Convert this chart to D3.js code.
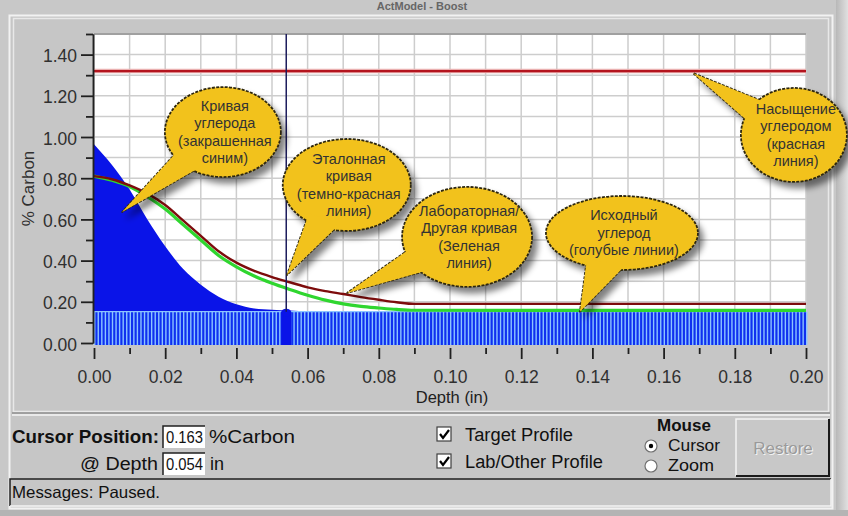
<!DOCTYPE html>
<html>
<head>
<meta charset="utf-8">
<script src="https://cdn.jsdelivr.net/npm/d3@7"></script>
<style>
  body { margin: 0; background: #c8c8c8; overflow: hidden; }
  svg { display: block; font-family: Arial, "Liberation Sans", sans-serif; }
</style>
</head>
<body>
<script>
// ---- data ----
const carbonDepth = [0, 0.005, 0.01, 0.015, 0.02, 0.025, 0.03, 0.035, 0.04, 0.045, 0.05, 0.055, 0.06];
const carbonValue = [0.965, 0.865, 0.745, 0.60, 0.47, 0.36, 0.283, 0.225, 0.188, 0.168, 0.162, 0.158, 0.153];

const profileDepth = [0, 0.005, 0.01, 0.015, 0.02, 0.025, 0.03, 0.035, 0.04, 0.045, 0.05, 0.055, 0.06, 0.065, 0.07, 0.075, 0.08, 0.085, 0.09, 0.20];
const targetValue  = [0.81, 0.795, 0.765, 0.725, 0.67, 0.595, 0.52, 0.445, 0.39, 0.35, 0.32, 0.295, 0.27, 0.252, 0.238, 0.223, 0.21, 0.198, 0.19, 0.19];
const labValue     = [0.81, 0.79, 0.76, 0.71, 0.65, 0.575, 0.50, 0.425, 0.37, 0.325, 0.29, 0.26, 0.232, 0.208, 0.19, 0.178, 0.17, 0.163, 0.159, 0.158];

const baseCarbon = 0.152;
const saturation = 1.32;
const cursorDepth = 0.054;
const cursorCarbon = 0.163;

const xMajor = [0, 0.02, 0.04, 0.06, 0.08, 0.10, 0.12, 0.14, 0.16, 0.18, 0.20];
const xMinor = [0.01, 0.03, 0.05, 0.07, 0.09, 0.11, 0.13, 0.15, 0.17, 0.19];
const yMajor = [0, 0.2, 0.4, 0.6, 0.8, 1.0, 1.2, 1.4];
const yMinor = [0.1, 0.3, 0.5, 0.7, 0.9, 1.1, 1.3, 1.5];

// callouts: text lines, balloon centre and tip in data units
const calloutText = [
  ["Кривая", "углерода", "(закрашенная", "синим)"],
  ["Эталонная", "кривая", "(темно-красная", "линия)"],
  ["Лабораторная/", "Другая кривая", "(Зеленая", "линия)"],
  ["Исходный", "углерод", "(голубые линии)"],
  ["Насыщение", "углеродом", "(красная", "линия)"]
];
const calloutDepth = [0.0362, 0.0710, 0.1048, 0.1483, 0.1966];
const calloutCarbon = [1.024, 0.767, 0.515, 0.534, 1.01];
const tipDepth = [0.0079, 0.0542, 0.0711, 0.1365, 0.1683];
const tipCarbon = [0.636, 0.33, 0.243, 0.152, 1.31];
const calloutRx = [58, 64, 65, 76, 53];
const calloutRy = [45, 46, 50, 37, 47];

// ---- layout ----
const W = 848, H = 516;
const svg = d3.select("body").append("svg").attr("width", W).attr("height", H);

const x = d3.scaleLinear().domain([0, 0.2]).range([94, 806]);
const y = d3.scaleLinear().domain([0, 1.5]).range([343, 34]);

const defs = svg.append("defs");
const f = defs.append("filter").attr("id", "shadow").attr("x", "-30%").attr("y", "-30%").attr("width", "170%").attr("height", "170%");
f.append("feGaussianBlur").attr("in", "SourceAlpha").attr("stdDeviation", 3).attr("result", "b");
f.append("feOffset").attr("in", "b").attr("dx", 5).attr("dy", 6).attr("result", "o");
f.append("feComponentTransfer").attr("in", "o").attr("result", "s")
  .append("feFuncA").attr("type", "linear").attr("slope", 0.5);
const m = f.append("feMerge");
m.append("feMergeNode").attr("in", "s");
m.append("feMergeNode").attr("in", "SourceGraphic");

const win = defs.append("linearGradient").attr("id", "rshade").attr("x1", 0).attr("x2", 1);
win.append("stop").attr("offset", 0).attr("stop-color", "#b8b8b8");
win.append("stop").attr("offset", 1).attr("stop-color", "#e0e0e0");

// window frame
svg.append("rect").attr("width", W).attr("height", H).attr("fill", "#c8c8c8");
svg.append("text").attr("x", 422).attr("y", 10).attr("text-anchor", "middle")
  .attr("font-size", 11).attr("font-weight", "bold").attr("fill", "#666").text("ActModel - Boost");
svg.append("rect").attr("x", 836).attr("y", 0).attr("width", 12).attr("height", H).attr("fill", "url(#rshade)");
svg.append("rect").attr("x", 0).attr("y", 510).attr("width", W).attr("height", 6).attr("fill", "#b4b4b4");
svg.append("rect").attr("x", 9.5).attr("y", 15.5).attr("width", 823).attr("height", 493)
  .attr("fill", "#c6c6c6").attr("stroke", "#f2f2f2").attr("stroke-width", 2);
// chart panel
svg.append("rect").attr("x", 13.5).attr("y", 18.5).attr("width", 815).attr("height", 393)
  .attr("fill", "#c6c6c6").attr("stroke", "#e8e8e8").attr("stroke-width", 1.5);
svg.append("line").attr("x1", 12).attr("x2", 830).attr("y1", 413).attr("y2", 413).attr("stroke", "#909090").attr("stroke-width", 1.5);
svg.append("line").attr("x1", 12).attr("x2", 830).attr("y1", 415).attr("y2", 415).attr("stroke", "#f4f4f4").attr("stroke-width", 1.5);

// plot area
svg.append("rect").attr("x", x(0)).attr("y", y(1.5)).attr("width", x(0.2) - x(0)).attr("height", y(0) - y(1.5) + 2)
  .attr("fill", "#ffffff");
const grid = svg.append("g").attr("stroke", "#cdcdcd").attr("stroke-width", 1.5);
grid.selectAll(".vg").data(x.ticks(20)).join("line")
  .attr("x1", d => x(d)).attr("x2", d => x(d)).attr("y1", y(1.5)).attr("y2", y(0));
grid.selectAll(".hg").data(y.ticks(15)).join("line")
  .attr("x1", x(0)).attr("x2", x(0.2)).attr("y1", d => y(d)).attr("y2", d => y(d));
svg.append("line").attr("x1", x(0)).attr("x2", x(0.2)).attr("y1", y(1.5)).attr("y2", y(1.5))
  .attr("stroke", "#a0a0a0").attr("stroke-width", 2);

// carbon curve (filled blue)
const carbon = carbonDepth.map((d, i) => ({d, v: carbonValue[i]}));
svg.append("path").datum(carbon)
  .attr("fill", "#0a14e8")
  .attr("d", d3.area().x(p => x(p.d)).y0(y(0)).y1(p => y(p.v)).curve(d3.curveMonotoneX));

// base carbon (striped blue)
svg.append("rect").attr("x", x(0)).attr("y", y(baseCarbon)).attr("width", x(0.2) - x(0)).attr("height", y(0) - y(baseCarbon) + 2)
  .attr("fill", "#0f30f0");
svg.append("g").attr("stroke", "#8cc4ff").attr("stroke-width", 1.4)
  .selectAll("line").data(x.ticks(200)).join("line")
  .attr("x1", d => x(d) + 0.7).attr("x2", d => x(d) + 0.7).attr("y1", y(baseCarbon)).attr("y2", y(0) + 2);
svg.append("line").attr("x1", x(0)).attr("x2", x(0.2)).attr("y1", y(baseCarbon)).attr("y2", y(baseCarbon))
  .attr("stroke", "#8cc4ff").attr("stroke-width", 1.2);

// cursor
svg.append("rect").attr("x", x(cursorDepth) - 5).attr("y", y(baseCarbon)).attr("width", 10).attr("height", y(0) - y(baseCarbon) + 2)
  .attr("fill", "#0a14e8");
svg.append("ellipse").attr("cx", x(cursorDepth)).attr("cy", y(baseCarbon) + 1).attr("rx", 5).attr("ry", 4).attr("fill", "#0a14e8");

// profiles
const line = d3.line().x(p => x(p.d)).y(p => y(p.v)).curve(d3.curveMonotoneX);
svg.append("path").datum(profileDepth.map((d, i) => ({d, v: labValue[i]})))
  .attr("fill", "none").attr("stroke", "#2fd62f").attr("stroke-width", 3.2).attr("d", line);
svg.append("path").datum(profileDepth.map((d, i) => ({d, v: targetValue[i]})))
  .attr("fill", "none").attr("stroke", "#7d0c0c").attr("stroke-width", 2.4).attr("d", line);

// saturation line
svg.append("line").attr("x1", x(0)).attr("x2", x(0.2)).attr("y1", y(saturation)).attr("y2", y(saturation))
  .attr("stroke", "#eab0b0").attr("stroke-width", 4.5);
svg.append("line").attr("x1", x(0)).attr("x2", x(0.2)).attr("y1", y(saturation)).attr("y2", y(saturation))
  .attr("stroke", "#b4141e").attr("stroke-width", 2.2);

svg.append("line").attr("x1", x(cursorDepth)).attr("x2", x(cursorDepth)).attr("y1", y(1.5)).attr("y2", y(baseCarbon))
  .attr("stroke", "#1c1c5c").attr("stroke-width", 1.5);

// axes
function styleAxis(g) {
  g.select(".domain").attr("stroke", "#202020").attr("stroke-width", 1.5);
  g.selectAll(".tick line").attr("stroke", "#202020").attr("stroke-width", 1.8);
  g.selectAll(".tick text").attr("fill", "#303030").attr("font-size", 17.5).attr("font-family", "Arial, 'Liberation Sans', sans-serif");
}
svg.append("g").attr("transform", "translate(93,0)")
  .call(d3.axisLeft(y).tickValues(yMinor).tickSize(7).tickFormat("").tickSizeOuter(0)).call(styleAxis);
svg.append("g").attr("transform", "translate(93,0)")
  .call(d3.axisLeft(y).tickValues(yMajor).tickSize(12).tickPadding(4).tickFormat(d3.format(".2f")).tickSizeOuter(0))
  .call(styleAxis)
  .call(g => g.selectAll(".tick text").attr("dy", "0.4em"));
svg.append("g").attr("transform", "translate(0,348)")
  .call(d3.axisBottom(x).tickValues(xMinor).tickSize(6).tickFormat("").tickSizeOuter(0)).call(styleAxis)
  .call(g => g.select(".domain").remove());
svg.append("g").attr("transform", "translate(0,348)")
  .call(d3.axisBottom(x).tickValues(xMajor).tickSize(11).tickPadding(12).tickFormat(d3.format(".2f")).tickSizeOuter(0))
  .call(styleAxis)
  .call(g => g.select(".domain").remove());

svg.append("text").attr("transform", `translate(34,${y(0.75)}) rotate(-90)`).attr("text-anchor", "middle")
  .attr("font-size", 17).attr("fill", "#303030").text("% Carbon");
svg.append("text").attr("x", 452).attr("y", 403).attr("text-anchor", "middle")
  .attr("font-size", 16.5).attr("fill", "#202020").text("Depth (in)");

// callouts
calloutText.forEach((lines, i) => {
  const cx = x(calloutDepth[i]), cy = y(calloutCarbon[i]);
  const tx = x(tipDepth[i]), ty = y(tipCarbon[i]);
  const rx = calloutRx[i], ry = calloutRy[i];
  const th = Math.atan2((ty - cy) / ry, (tx - cx) / rx);
  const dl = 0.32;
  const p1 = [cx + rx * 0.85 * Math.cos(th - dl), cy + ry * 0.85 * Math.sin(th - dl)];
  const p2 = [cx + rx * 0.85 * Math.cos(th + dl), cy + ry * 0.85 * Math.sin(th + dl)];
  const tail = `M${p1}L${tx},${ty}L${p2}Z`;
  const g = svg.append("g").attr("filter", "url(#shadow)");
  const st = {stroke: "#2e2810", w: 1.8, dash: "3,1.3"};
  g.append("path").attr("d", tail).attr("fill", "#f2c21e").attr("stroke", st.stroke).attr("stroke-width", st.w).attr("stroke-dasharray", st.dash).attr("stroke-linejoin", "round");
  g.append("ellipse").attr("cx", cx).attr("cy", cy).attr("rx", rx).attr("ry", ry)
    .attr("fill", "#f2c21e").attr("stroke", st.stroke).attr("stroke-width", st.w).attr("stroke-dasharray", st.dash);
  g.append("path").attr("d", tail).attr("fill", "#f2c21e");
  const lh = 17.5;
  svg.append("g").selectAll("text").data(lines).join("text")
    .attr("x", cx + 2).attr("y", (d, j) => cy + (j - (lines.length - 1) / 2) * lh + 5)
    .attr("text-anchor", "middle").attr("font-size", 14.5).attr("fill", "#333").text(d => d);
});

// ---- lower control panel ----
const ui = svg.append("g").attr("fill", "#111");
ui.append("text").attr("x", 12).attr("y", 443).attr("font-size", 18).attr("font-weight", "bold")
  .attr("textLength", 147).attr("lengthAdjust", "spacingAndGlyphs").text("Cursor Position:");
function field(xx, yy, txt) {
  ui.append("rect").attr("x", xx).attr("y", yy).attr("width", 42).attr("height", 22).attr("fill", "#fff");
  ui.append("path").attr("d", `M${xx},${yy + 22}V${yy}H${xx + 42}`).attr("fill", "none").attr("stroke", "#202020").attr("stroke-width", 1.5);
  ui.append("text").attr("x", xx + 3).attr("y", yy + 17).attr("font-size", 17).attr("textLength", 37).attr("lengthAdjust", "spacingAndGlyphs").text(txt);
}
field(163, 426, cursorCarbon.toFixed(3));
field(163, 453, cursorDepth.toFixed(3));
ui.append("text").attr("x", 209).attr("y", 443).attr("font-size", 18).attr("textLength", 86).attr("lengthAdjust", "spacingAndGlyphs").text("%Carbon");
ui.append("text").attr("x", 80).attr("y", 470).attr("font-size", 18).attr("textLength", 78).attr("lengthAdjust", "spacingAndGlyphs").text("@ Depth");
ui.append("text").attr("x", 210).attr("y", 470).attr("font-size", 18).text("in");

function check(yy, label, len) {
  ui.append("rect").attr("x", 437).attr("y", yy).attr("width", 14).attr("height", 14).attr("fill", "#fff")
    .attr("stroke", "#404040").attr("stroke-width", 1.2);
  ui.append("path").attr("d", `M440,${yy + 7}l3,4l6,-8`).attr("fill", "none").attr("stroke", "#000").attr("stroke-width", 2.2);
  ui.append("text").attr("x", 465).attr("y", yy + 14).attr("font-size", 18)
    .attr("textLength", len).attr("lengthAdjust", "spacingAndGlyphs").text(label);
}
check(427, "Target Profile", 108);
check(454, "Lab/Other Profile", 138);

ui.append("text").attr("x", 684).attr("y", 431).attr("text-anchor", "middle").attr("font-size", 17).attr("font-weight", "bold").text("Mouse");
function radio(yy, label, len, on) {
  ui.append("circle").attr("cx", 651).attr("cy", yy).attr("r", 6).attr("fill", "#fff").attr("stroke", "#707070").attr("stroke-width", 1.2);
  if (on) ui.append("circle").attr("cx", 651).attr("cy", yy).attr("r", 2.2).attr("fill", "#000");
  ui.append("text").attr("x", 668).attr("y", yy + 5).attr("font-size", 16).attr("textLength", len)
    .attr("lengthAdjust", "spacingAndGlyphs").text(label);
}
radio(446, "Cursor", 52, true);
radio(466, "Zoom", 46, false);

ui.append("rect").attr("x", 736).attr("y", 419).attr("width", 93).attr("height", 57).attr("fill", "#c8c8c8");
ui.append("path").attr("d", "M736,476V419H829").attr("fill", "none").attr("stroke", "#f4f4f4").attr("stroke-width", 1.5);
ui.append("path").attr("d", "M736,476H829V419").attr("fill", "none").attr("stroke", "#1a1a1a").attr("stroke-width", 2);
ui.append("text").attr("x", 784).attr("y", 455).attr("text-anchor", "middle").attr("font-size", 17).attr("fill", "#f4f4f4").text("Restore");
ui.append("text").attr("x", 783).attr("y", 454).attr("text-anchor", "middle").attr("font-size", 17).attr("fill", "#9a9a9a").text("Restore");

ui.append("rect").attr("x", 10).attr("y", 479).attr("width", 821).attr("height", 27).attr("fill", "#c6c6c6");
ui.append("path").attr("d", "M10,506V479H831").attr("fill", "none").attr("stroke", "#202020").attr("stroke-width", 1.5);
ui.append("path").attr("d", "M10,506H831V479").attr("fill", "none").attr("stroke", "#f4f4f4").attr("stroke-width", 1.5);
ui.append("text").attr("x", 12).attr("y", 498).attr("font-size", 16.5).attr("textLength", 148).attr("lengthAdjust", "spacingAndGlyphs").text("Messages: Paused.");
</script>
</body>
</html>
